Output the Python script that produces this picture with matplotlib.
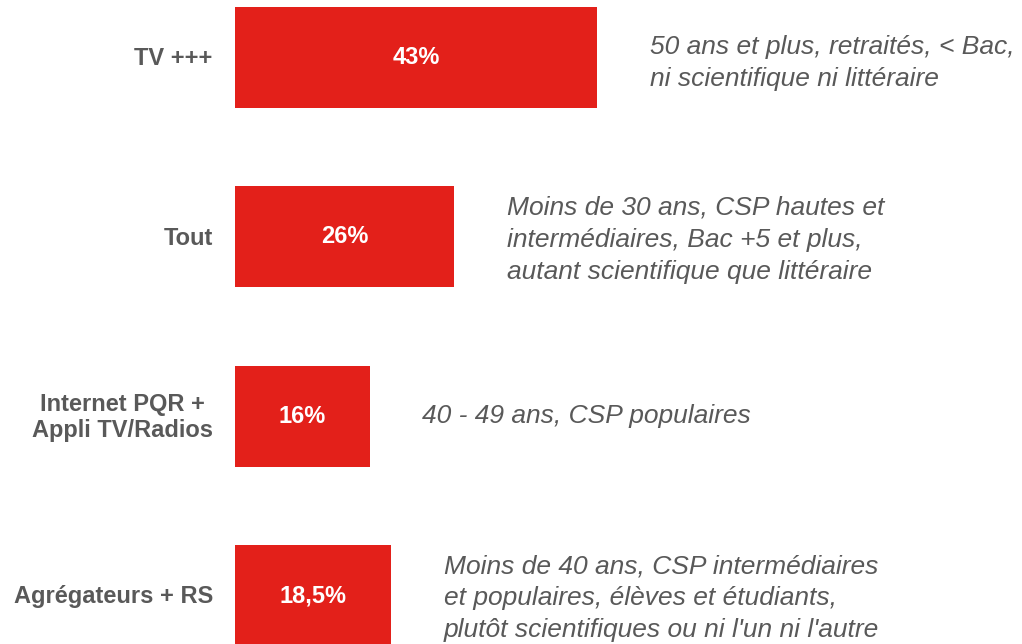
import numpy as np
import matplotlib.pyplot as plt
import matplotlib as mpl

mpl.rcParams['font.family'] = ['Liberation Sans', 'DejaVu Sans']

# data
categories = ['TV +++', 'Tout', 'Internet PQR +\nAppli TV/Radios', 'Agrégateurs + RS']
shares = [43, 26, 16, 18.5]
value_labels = ['43%', '26%', '16%', '18,5%']
profiles = [
    '50 ans et plus, retraités, < Bac,\nni scientifique ni littéraire',
    'Moins de 30 ans, CSP hautes et\nintermédiaires, Bac +5 et plus,\nautant scientifique que littéraire',
    '40 - 49 ans, CSP populaires',
    "Moins de 40 ans, CSP intermédiaires\net populaires, élèves et étudiants,\nplutôt scientifiques ou ni l'un ni l'autre",
]

RED = '#E3201A'
GREY = '#595959'


def main():
    fig = plt.figure(figsize=(10.22, 6.44), dpi=100)
    ax = fig.add_axes([235 / 1022, 0, 787 / 1022, 1])

    y = np.arange(len(categories))
    ax.barh(y, shares, height=0.565, color=RED, edgecolor='none')
    ax.set_xlim(0, 787 / 8.42)
    ax.set_ylim(3.27, -0.32)
    ax.axis('off')

    for i, (v, lab, cat, prof) in enumerate(zip(shares, value_labels, categories, profiles)):
        ax.text(v / 2, i, lab, ha='center', va='center', color='white',
                fontsize=17, fontweight='bold')
        ax.annotate(cat, xy=(0, i), xytext=(-16, -1), textcoords='offset points',
                    ha='right', va='center', multialignment='center',
                    color=GREY, fontsize=17, fontweight='bold', linespacing=1.15)
        # two-line profiles sit a bit below the bar centre in the original
        dy = -4 if prof.count('\n') == 1 else (-2 if prof.count('\n') == 2 else 0)
        ax.annotate(prof, xy=(v, i), xytext=(38, dy), textcoords='offset points',
                    ha='left', va='center', color=GREY, fontsize=19,
                    fontstyle='italic', linespacing=1.42)

    fig.savefig('out.png', dpi=100)
##END main


if __name__ == '__main__':
    main()
